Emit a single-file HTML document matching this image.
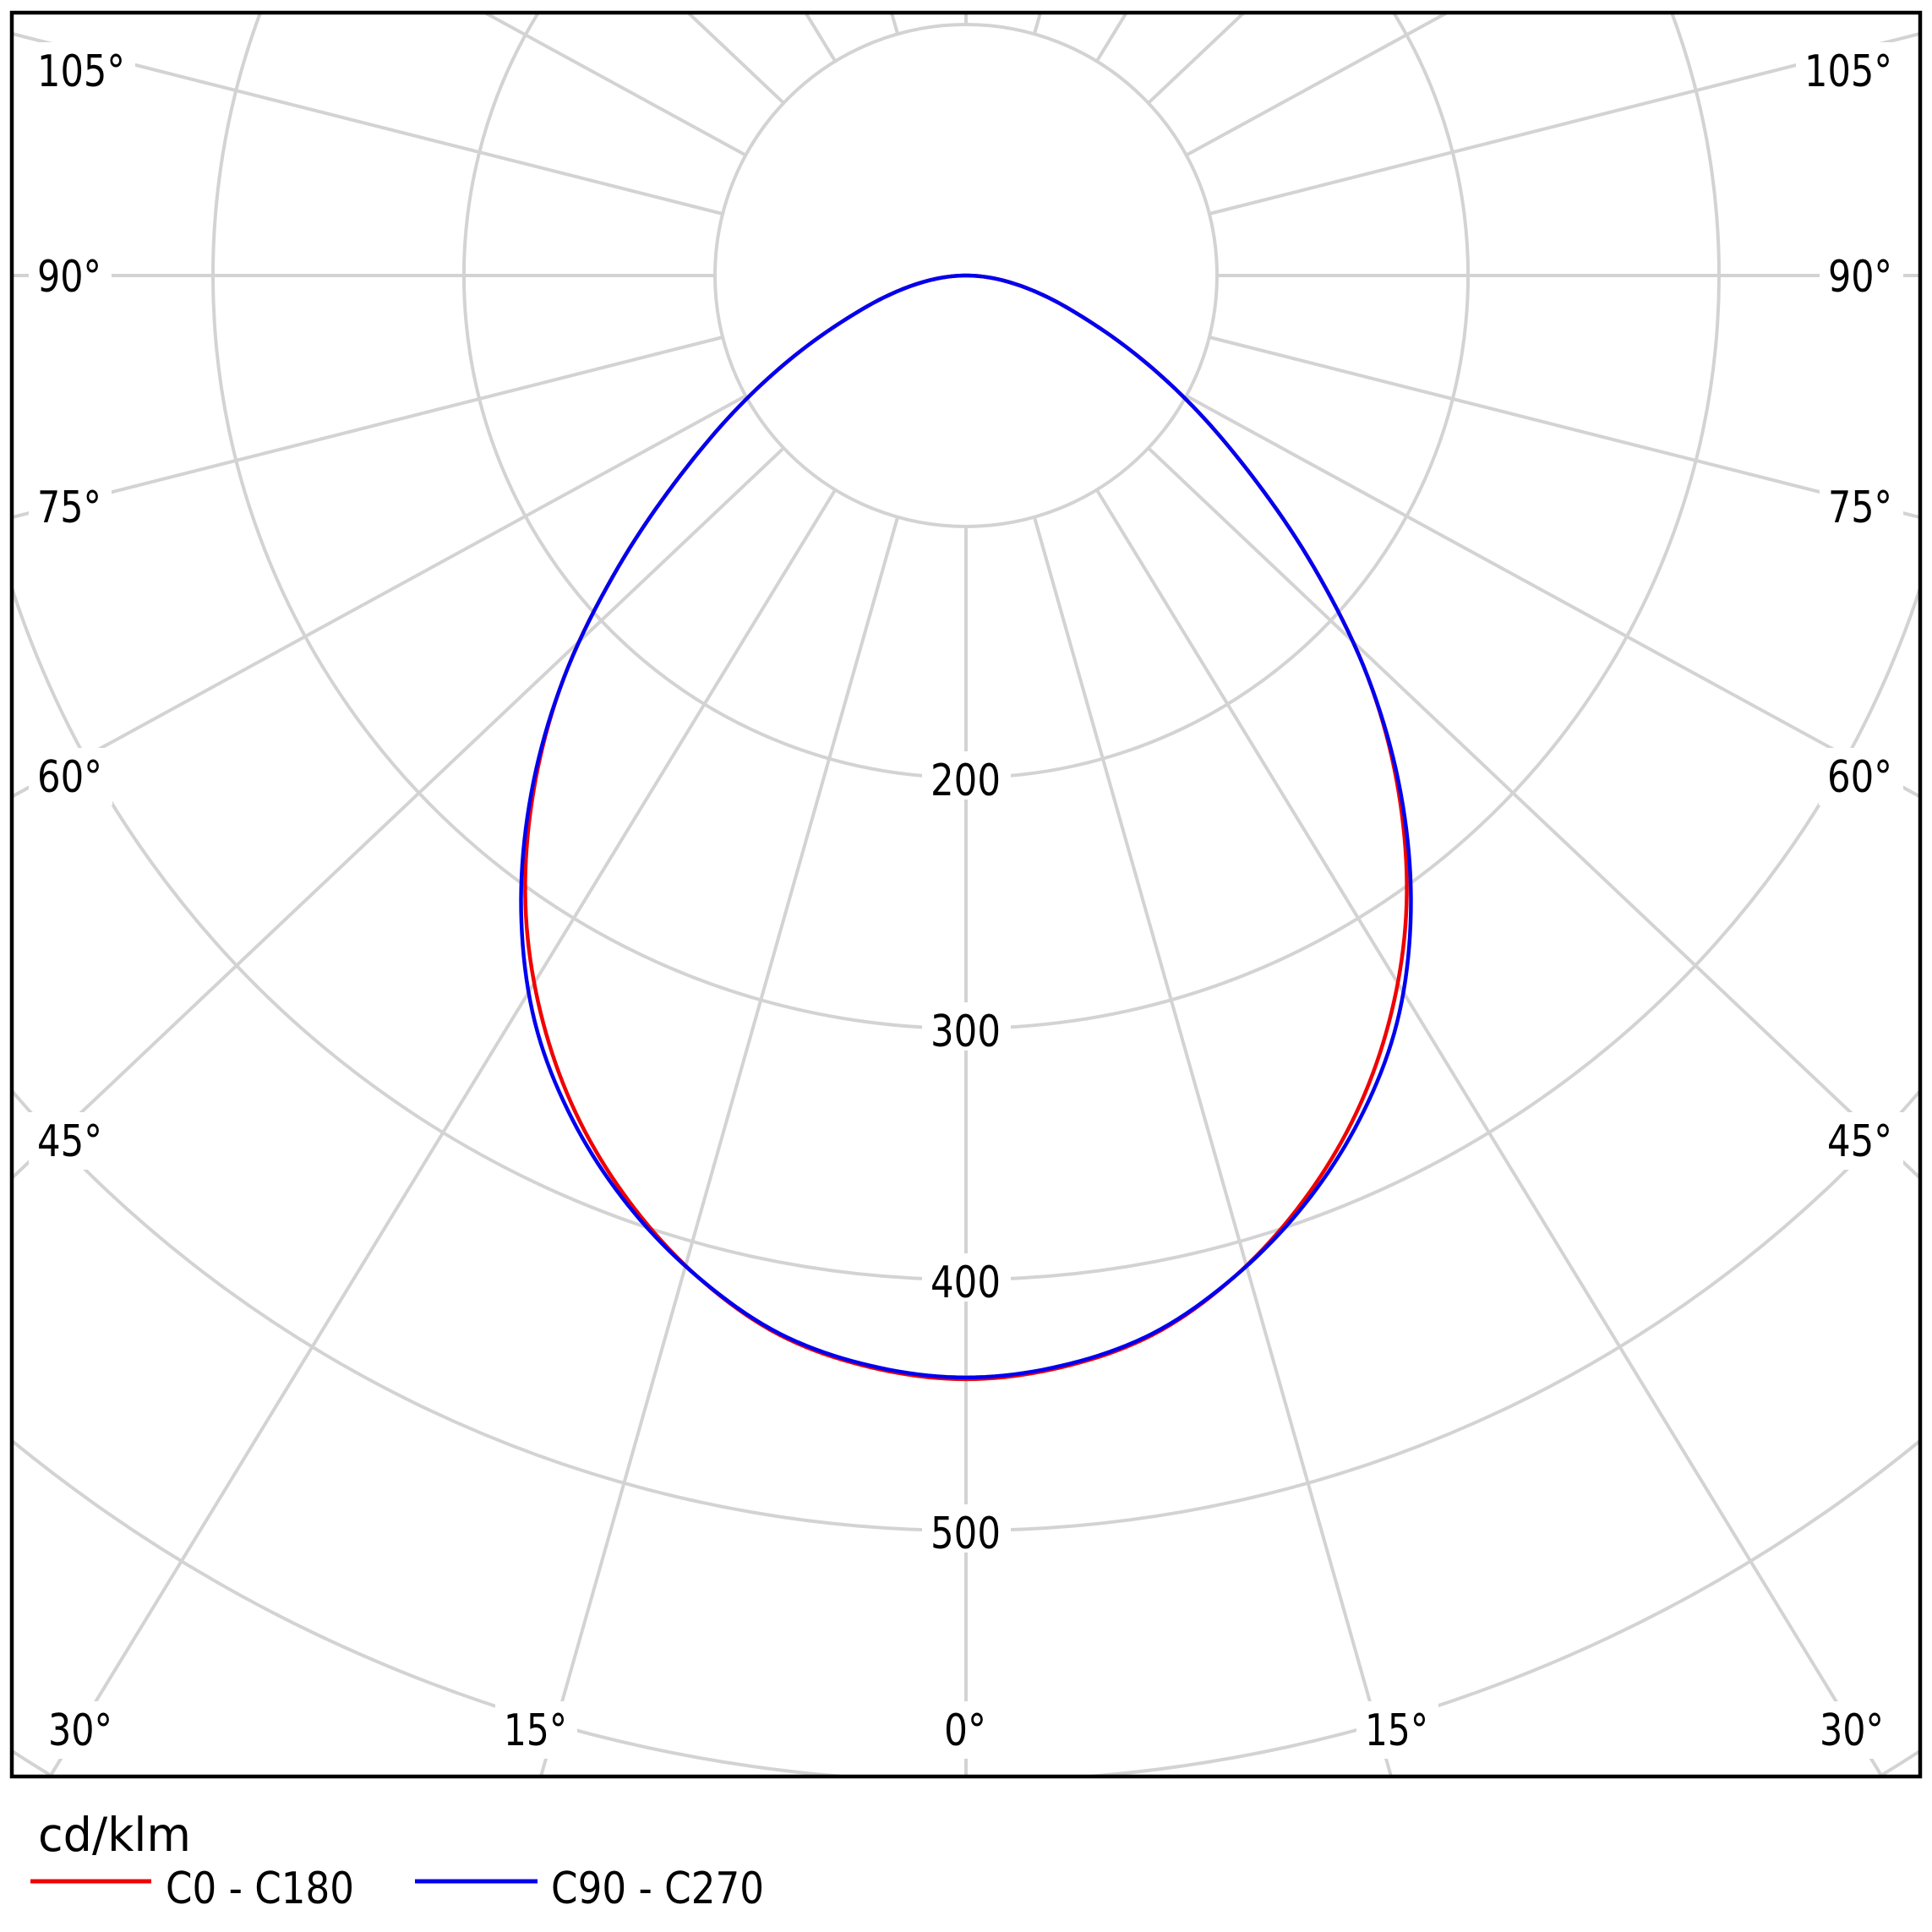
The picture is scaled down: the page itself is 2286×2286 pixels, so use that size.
<!DOCTYPE html>
<html>
<head>
<meta charset="utf-8">
<style>
  html, body { margin: 0; padding: 0; background: #ffffff; width: 2286px; height: 2286px; overflow: hidden; }
  svg { display: block; }
  text { font-family: "DejaVu Sans", "Liberation Sans", sans-serif; fill: #000; }
</style>
</head>
<body>
<svg id="chart" width="2286" height="2286" viewBox="0 0 2286 2286" xmlns="http://www.w3.org/2000/svg">
  <defs>
    <clipPath id="plot">
      <rect x="14" y="15" width="2258" height="2087"/>
    </clipPath>
  </defs>
  <rect x="0" y="0" width="2286" height="2286" fill="#ffffff"/>

  <g clip-path="url(#plot)">
    <!-- circles -->
    <g fill="none" stroke="#d3d3d3" stroke-width="4">
      <circle cx="1143" cy="326" r="297"/>
      <path d="M637,15 A594,594 0 1 0 1649,15"/>
      <path d="M308,15 A891,891 0 1 0 1978,15"/>
      <path d="M14,695.7 A1188,1188 0 0 0 2272,695.7"/>
      <path d="M14,1290.7 A1485,1485 0 0 0 2272,1290.7"/>
      <path d="M14,1704.7 A1782,1782 0 0 0 996.9,2102"/>
      <path d="M1289.1,2102 A1782,1782 0 0 0 2272,1704.7"/>
      <path d="M14,2071.8 A2079,2079 0 0 0 62.2,2102"/>
      <path d="M2223.8,2102 A2079,2079 0 0 0 2272,2071.8"/>
    </g>
    <!-- radial lines -->
    <g stroke="#d3d3d3" stroke-width="4" fill="none">
      <line x1="1143" y1="623" x2="1143" y2="2102"/>
      <line x1="1062.1" y1="611.8" x2="640" y2="2102"/>
      <line x1="1223.9" y1="611.8" x2="1646" y2="2102"/>
      <line x1="988.3" y1="579.5" x2="59.2" y2="2102"/>
      <line x1="1297.7" y1="579.5" x2="2226.8" y2="2102"/>
      <line x1="927.3" y1="530.1" x2="14" y2="1394"/>
      <line x1="1358.7" y1="530.1" x2="2272" y2="1394"/>
      <line x1="882.4" y1="468.4" x2="14" y2="942.7"/>
      <line x1="1403.6" y1="468.4" x2="2272" y2="942.7"/>
      <line x1="855.1" y1="399.0" x2="14" y2="612.2"/>
      <line x1="1430.9" y1="399.0" x2="2272" y2="612.2"/>
      <line x1="846" y1="326" x2="14" y2="326"/>
      <line x1="1440" y1="326" x2="2272" y2="326"/>
      <line x1="855.1" y1="253.0" x2="14" y2="39.8"/>
      <line x1="1430.9" y1="253.0" x2="2272" y2="39.8"/>
      <line x1="882.4" y1="183.6" x2="573.7" y2="15"/>
      <line x1="1403.6" y1="183.6" x2="1712.3" y2="15"/>
      <line x1="927.3" y1="121.9" x2="814.2" y2="15"/>
      <line x1="1358.7" y1="121.9" x2="1471.8" y2="15"/>
      <line x1="988.3" y1="72.5" x2="953.2" y2="15"/>
      <line x1="1297.7" y1="72.5" x2="1332.8" y2="15"/>
      <line x1="1062.1" y1="40.2" x2="1054.9" y2="15"/>
      <line x1="1223.9" y1="40.2" x2="1231.1" y2="15"/>
      <line x1="1143" y1="29" x2="1143" y2="15"/>
    </g>

    <!-- label background boxes -->
    <g fill="#ffffff">
      <rect x="34" y="50" width="126" height="68"/>
      <rect x="34" y="293" width="98" height="68"/>
      <rect x="34" y="566" width="98" height="68"/>
      <rect x="34" y="885" width="99" height="68"/>
      <rect x="34" y="1316" width="99" height="68"/>
      <rect x="2125" y="50" width="127" height="68"/>
      <rect x="2153" y="293" width="99" height="68"/>
      <rect x="2153" y="566" width="99" height="68"/>
      <rect x="2152" y="885" width="100" height="68"/>
      <rect x="2152" y="1316" width="100" height="68"/>
      <rect x="47" y="2013" width="98" height="68"/>
      <rect x="586" y="2013" width="97" height="68"/>
      <rect x="1107" y="2013" width="72" height="68"/>
      <rect x="1605" y="2013" width="97" height="68"/>
      <rect x="2143" y="2013" width="98" height="68"/>
      <rect x="1091" y="889" width="105" height="57"/>
      <rect x="1091" y="1186" width="105" height="57"/>
      <rect x="1091" y="1483" width="105" height="57"/>
      <rect x="1091" y="1780" width="105" height="57"/>
    </g>

    <!-- labels -->
    <g font-size="52">
      <text x="44" y="102" textLength="104" lengthAdjust="spacingAndGlyphs">105°</text>
      <text x="44" y="345" textLength="76" lengthAdjust="spacingAndGlyphs">90°</text>
      <text x="44" y="618" textLength="76" lengthAdjust="spacingAndGlyphs">75°</text>
      <text x="44" y="937" textLength="77" lengthAdjust="spacingAndGlyphs">60°</text>
      <text x="44" y="1368" textLength="77" lengthAdjust="spacingAndGlyphs">45°</text>

      <text x="2135" y="102" textLength="104" lengthAdjust="spacingAndGlyphs">105°</text>
      <text x="2163" y="345" textLength="76" lengthAdjust="spacingAndGlyphs">90°</text>
      <text x="2163" y="618" textLength="76" lengthAdjust="spacingAndGlyphs">75°</text>
      <text x="2162" y="937" textLength="77" lengthAdjust="spacingAndGlyphs">60°</text>
      <text x="2162" y="1368" textLength="77" lengthAdjust="spacingAndGlyphs">45°</text>

      <text x="57" y="2065" textLength="76" lengthAdjust="spacingAndGlyphs">30°</text>
      <text x="596" y="2065" textLength="75" lengthAdjust="spacingAndGlyphs">15°</text>
      <text x="1117" y="2065" textLength="50" lengthAdjust="spacingAndGlyphs">0°</text>
      <text x="1615" y="2065" textLength="75" lengthAdjust="spacingAndGlyphs">15°</text>
      <text x="2153" y="2065" textLength="76" lengthAdjust="spacingAndGlyphs">30°</text>

      <text x="1101" y="941" textLength="83" lengthAdjust="spacingAndGlyphs">200</text>
      <text x="1101" y="1238" textLength="83" lengthAdjust="spacingAndGlyphs">300</text>
      <text x="1101" y="1535" textLength="83" lengthAdjust="spacingAndGlyphs">400</text>
      <text x="1101" y="1832" textLength="83" lengthAdjust="spacingAndGlyphs">500</text>
    </g>

    <!-- curves: fallback polylines (5° steps), replaced by fine curves via script -->
    <polyline id="redPoly" fill="none" stroke="#f00000" stroke-width="4.5" stroke-linejoin="round" stroke-linecap="round"
      points="1143,326 1115,328 1084,336 1052,350 1017,372 980,402 942,440 884,476 821,506 748,547 678,584 619,636 591,725 597,814 643,911 718,1010 800,1101 891,1203 1010,1617 1143,1630"/>
    <polyline id="bluePoly" fill="none" stroke="#0000f0" stroke-width="4.5" stroke-linejoin="round" stroke-linecap="round"
      points="1143,326 1115,328 1084,336 1052,350 1017,372 980,402 942,440 884,476 821,506 748,547 678,584 619,636 591,725 597,814 643,911 718,1010 800,1101 891,1203 1010,1617 1143,1630"/>
    <path id="redPath" fill="none" stroke="#f00000" stroke-width="4.5" stroke-linejoin="round" d=""/>
    <path id="bluePath" fill="none" stroke="#0000f0" stroke-width="4.5" stroke-linejoin="round" d=""/>
  </g>

  <!-- frame -->
  <rect x="14" y="15" width="2258" height="2087" fill="none" stroke="#000" stroke-width="4.5"/>

  <!-- legend -->
  <text x="45" y="2190" font-size="55" textLength="181" lengthAdjust="spacingAndGlyphs">cd/klm</text>
  <line x1="36" y1="2226" x2="179" y2="2226" stroke="#f00000" stroke-width="5"/>
  <text x="196" y="2252" font-size="52" textLength="223" lengthAdjust="spacingAndGlyphs">C0 - C180</text>
  <line x1="491" y1="2226" x2="636" y2="2226" stroke="#0000f0" stroke-width="5"/>
  <text x="652" y="2252" font-size="52" textLength="252" lengthAdjust="spacingAndGlyphs">C90 - C270</text>
</svg>
<script>
(function(){
  var CX = 1143, CY = 326, S = 2.97;
  // intensity table (cd/klm) at 5 degree steps, 0..90
  var T = [439, 436, 428, 413, 394, 371, 343.5, 309, 269.5, 226.5, 181, 139, 104.5, 75, 51, 34, 20.5, 9.5, 0];
  // red offset from blue
  var D = [0.7, 0.6, 0.5, 0, -1.5, -3, -4.5, -3, -1.5, 0, 0, 0, 0, 0, 0, 0, 0, 0, 0];
  function val(tab, k){
    if (k < 0) return tab[-k];
    if (k > 18) return 2*tab[18] - tab[36-k];
    return tab[k];
  }
  function interp(tab, t){
    var i = Math.floor(t/5); if (i >= 18) return tab[18];
    var u = (t - 5*i)/5;
    var p0 = val(tab, i-1), p1 = val(tab, i), p2 = val(tab, i+1), p3 = val(tab, i+2);
    return 0.5*((2*p1) + (-p0+p2)*u + (2*p0-5*p1+4*p2-p3)*u*u + (-p0+3*p1-3*p2+p3)*u*u*u);
  }
  function build(withOffset){
    var pts = [];
    var t, I, r, a;
    // left side: 90 -> 0
    for (t = 90; t >= 0; t -= 0.5) {
      I = interp(T, t) + (withOffset ? interp(D, t) : 0);
      if (I < 0) I = 0;
      r = I*S; a = t*Math.PI/180;
      pts.push([CX - r*Math.sin(a), CY + r*Math.cos(a)]);
    }
    // right side: 0.5 -> 90
    for (t = 0.5; t <= 90; t += 0.5) {
      I = interp(T, t) + (withOffset ? interp(D, t) : 0);
      if (I < 0) I = 0;
      r = I*S; a = t*Math.PI/180;
      pts.push([CX + r*Math.sin(a), CY + r*Math.cos(a)]);
    }
    var d = 'M' + pts[0][0].toFixed(2) + ',' + pts[0][1].toFixed(2);
    for (var k = 1; k < pts.length; k++) d += ' L' + pts[k][0].toFixed(2) + ',' + pts[k][1].toFixed(2);
    return d;
  }
  var rp = document.getElementById('redPath'), bp = document.getElementById('bluePath');
  rp.setAttribute('d', build(true));
  bp.setAttribute('d', build(false));
  document.getElementById('redPoly').setAttribute('display', 'none');
  document.getElementById('bluePoly').setAttribute('display', 'none');
})();
</script>
</body>
</html>
